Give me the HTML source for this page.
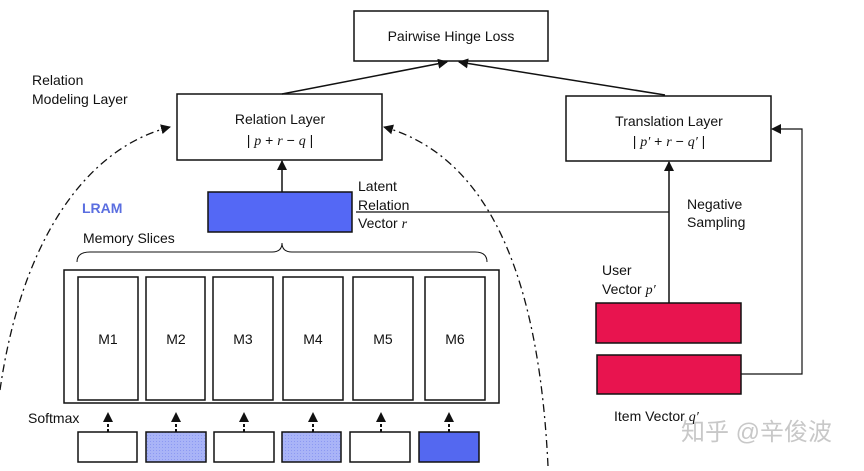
<!DOCTYPE html>
<html><head><meta charset="utf-8"><style>
body{margin:0;background:#fff;}
svg text{font-family:"Liberation Sans",Arial,sans-serif;fill:#111;}
.m{font-family:"Liberation Serif",serif;font-style:italic;}
</style></head><body>
<svg width="864" height="466" viewBox="0 0 864 466" xmlns="http://www.w3.org/2000/svg">
<defs>
<marker id="a" markerWidth="10" markerHeight="10" refX="9" refY="5" orient="auto" markerUnits="userSpaceOnUse"><path d="M0,0 L10,5 L0,10z" fill="#111"/></marker>
<pattern id="d" width="3" height="3" patternUnits="userSpaceOnUse"><rect width="3" height="3" fill="#a9b4f7"/><rect width="1" height="1" fill="#8c99f2"/></pattern>
</defs>
<g fill="none" stroke="#111" stroke-width="1.5">
<rect x="354" y="11" width="194" height="50" fill="#fff"/>
<rect x="177" y="94" width="205" height="66"/>
<rect x="566" y="96" width="205" height="65"/>
<line x1="282" y1="94" x2="447" y2="62" marker-end="url(#a)"/>
<line x1="665" y1="95" x2="459" y2="62" marker-end="url(#a)"/>
<line x1="282" y1="192" x2="282" y2="161" marker-end="url(#a)"/>
<line x1="669" y1="303" x2="669" y2="162" marker-end="url(#a)"/>
<line x1="356" y1="212" x2="669" y2="212" stroke-width="1.2"/>
<polyline points="741,374 802,374 802,129 772,129" marker-end="url(#a)" stroke-width="1.2"/>
<path d="M77,262 Q77,252 90,252 L272,252 Q282,252 282,243 Q282,252 292,252 L475,252 Q487,252 487,262" stroke-width="1"/>
<rect x="64" y="270" width="435" height="133"/>
<rect x="78" y="277" width="60" height="123"/>
<rect x="146" y="277" width="59" height="123"/>
<rect x="213" y="277" width="60" height="123"/>
<rect x="283" y="277" width="60" height="123"/>
<rect x="353" y="277" width="60" height="123"/>
<rect x="425" y="277" width="60" height="123"/>
<path d="M0,390 C20,250 80,150 170,127" stroke-dasharray="8,4,2,4" marker-end="url(#a)" stroke-width="1.3"/>
<path d="M548,466 C540,300 500,160 384,127" stroke-dasharray="8,4,2,4" marker-end="url(#a)" stroke-width="1.3"/>
<g stroke-dasharray="3,2" stroke-width="2">
<line x1="108" y1="432" x2="108" y2="413" marker-end="url(#a)"/>
<line x1="176" y1="432" x2="176" y2="413" marker-end="url(#a)"/>
<line x1="244" y1="432" x2="244" y2="413" marker-end="url(#a)"/>
<line x1="313" y1="432" x2="313" y2="413" marker-end="url(#a)"/>
<line x1="381" y1="432" x2="381" y2="413" marker-end="url(#a)"/>
<line x1="449" y1="432" x2="449" y2="413" marker-end="url(#a)"/>
</g>
<rect x="78" y="432" width="59" height="30"/>
<rect x="146" y="432" width="60" height="30" fill="url(#d)"/>
<rect x="214" y="432" width="60" height="30"/>
<rect x="282" y="432" width="59" height="30" fill="url(#d)"/>
<rect x="350" y="432" width="60" height="30"/>
<rect x="419" y="432" width="60" height="30" fill="#5468f0"/>
<rect x="208" y="192" width="144" height="40" fill="#5468f5"/>
<rect x="596" y="303" width="145" height="40" fill="#e8144f"/>
<rect x="597" y="355" width="144" height="39" fill="#e8144f"/>
</g>
<g font-size="14">
<text x="451" y="41" text-anchor="middle">Pairwise Hinge Loss</text>
<text x="280" y="124" text-anchor="middle">Relation Layer</text>
<text x="280" y="145" text-anchor="middle">| <tspan class="m">p</tspan> + <tspan class="m">r</tspan>  − <tspan class="m">q</tspan> |</text>
<text x="669" y="126" text-anchor="middle">Translation Layer</text>
<text x="669" y="146" text-anchor="middle">| <tspan class="m">p′</tspan> + <tspan class="m">r</tspan>  − <tspan class="m">q′</tspan> |</text>
<text x="32" y="85">Relation</text>
<text x="32" y="104">Modeling Layer</text>
<text x="82" y="213" font-weight="bold" style="fill:#5a6ee0">LRAM</text>
<text x="83" y="243">Memory Slices</text>
<text x="358" y="191">Latent</text>
<text x="358" y="210">Relation</text>
<text x="358" y="228">Vector <tspan class="m">r</tspan></text>
<text x="687" y="209">Negative</text>
<text x="687" y="227">Sampling</text>
<text x="602" y="275">User</text>
<text x="602" y="294">Vector <tspan class="m">p′</tspan></text>
<text x="614" y="421">Item Vector <tspan class="m">q′</tspan></text>
<text x="28" y="423">Softmax</text>
<text x="108" y="344" text-anchor="middle">M1</text>
<text x="176" y="344" text-anchor="middle">M2</text>
<text x="243" y="344" text-anchor="middle">M3</text>
<text x="313" y="344" text-anchor="middle">M4</text>
<text x="383" y="344" text-anchor="middle">M5</text>
<text x="455" y="344" text-anchor="middle">M6</text>
</g>
<text x="681" y="440" font-size="24" style="fill:#c8c8c8;font-family:'Liberation Sans','Noto Sans CJK SC',sans-serif">知乎 @辛俊波</text>
</svg>
</body></html>
